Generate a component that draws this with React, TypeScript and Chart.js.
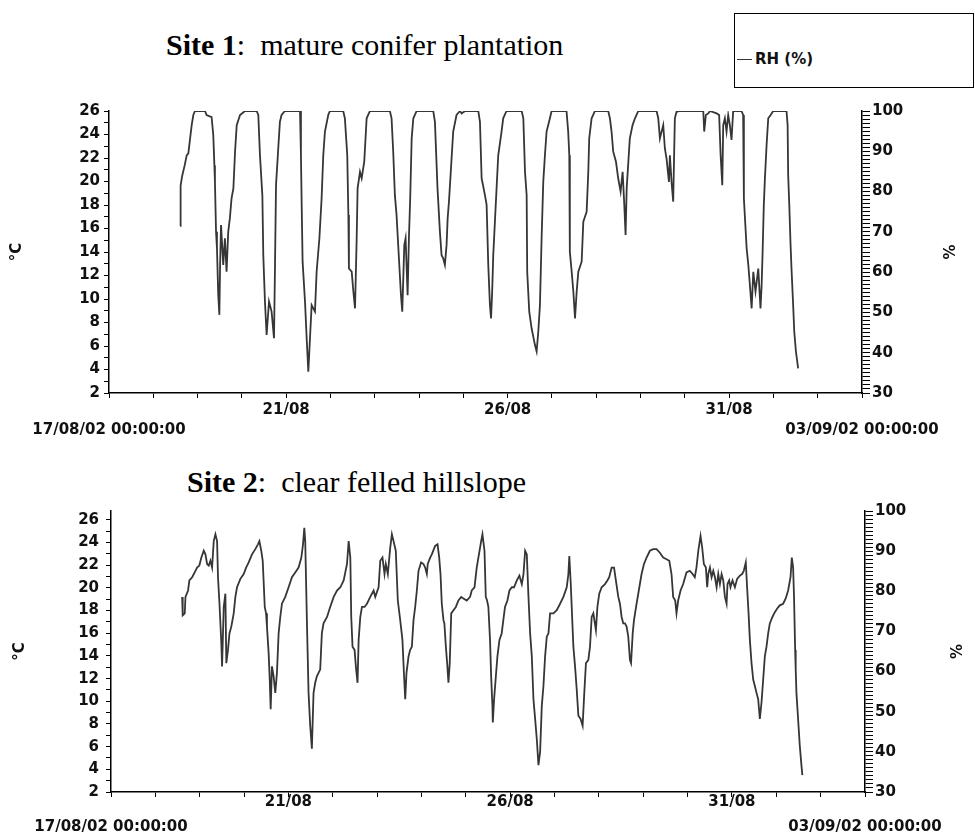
import React, { useEffect, useRef } from 'react';
import { Chart, registerables } from 'chart.js';

Chart.register(...registerables);

// Relative humidity readings: [hours since 17/08/02 00:00, RH %]
const site1Readings: number[][] = [
  [38.5,71.5],[38.8,81.5],[39.7,84],[41,86.5],[42.1,89],[43,89.5],[43.9,93],[44.8,96.5],[45.7,99],[46.6,100],[52,100],[52.9,99],[55.6,98.5],[56.5,94],[57.1,86.5],[57.4,82.5],[58,70],[58.5,65.9],[59.2,54.3],[59.8,49.4],[60.2,62],[60.7,71.7],[61.9,61.8],[62.8,68.4],[63.7,60.1],[64.6,70],[65.5,73.4],[66.4,78.3],[67.4,80.8],[68.3,89.9],[69.2,96.5],[71,99],[73.7,100],
  [80,100],[80.9,99],[81.8,89],[83.1,79],[83.6,64.2],[84.5,52.7],[85.4,44.4],[86.7,52.7],[88.1,50.2],[89.4,43.6],[89.9,60.1],[90.5,81.6],[91.7,90.7],[92.6,97.3],[93.5,99],[95.3,100],
  [103.5,100],[104,89],[104.4,76.7],[104.9,62.6],[106.2,52.7],[107.1,43.6],[108,35.3],[108.9,43.6],[109.8,51.8],[111.6,50.2],[112.5,60.1],[114,68.4],[115.2,78.3],[116.1,89],[117,94.9],[118.8,99],[119.7,100],
  [126.9,100],[127.8,98.2],[129.1,89],[129.7,74.2],[130,60.9],[131.5,60.1],[132.4,55.2],[133.3,51],[134.2,68.4],[134.7,80.8],[136,84.9],[136.9,83.3],[138.3,87.4],[139.6,98.2],[141.4,100],
  [152.2,100],[153.1,98.2],[154,89.9],[154.9,79.1],[155.8,74.2],[157.1,63.4],[158.2,54.3],[158.9,50.2],[160,66.7],[160.7,68.4],[161.8,54.3],[162.5,68.4],[163.2,78.3],[164,93.2],[164.9,98.2],[166.7,100],
  [175.7,100],[176.6,97.3],[178,80.8],[179.3,70],[180.2,64.2],[181.1,63.4],[182,61.8],[182.9,66.7],[183.5,73.4],[184.2,77.5],[185.3,85.8],[186.5,94.9],[188.3,99],[190.2,100],[191.1,99.4],[192.9,100],
  [200.1,100],[201,97.3],[201.9,83.3],[203.7,79.1],[204.6,76.7],[205.5,61.8],[206.4,51.8],[207,48.5],[207.6,55],[208.2,64.2],[209.1,72.5],[210,80.8],[210.9,89],[212.7,94.9],[213.6,98.2],[215.4,100],
  [223.6,100],[224.5,98.2],[225.4,84.9],[226.3,79.1],[226.6,60.1],[227.7,50.2],[229,46],[230.8,41.9],[231.7,40.3],[232.6,45.2],[233.5,51.8],[234.4,68.4],[235.3,82.4],[236.2,89],[237.1,94.9],[238.9,98.2],[239.8,100],
  [247.9,100],[248.8,94.9],[249.4,89],[249.7,65.1],[250.7,60.1],[251.6,55.2],[252.5,48.5],[253.4,55.2],[254.3,60.1],[256.1,62.6],[257,72.5],[258.8,75],[259.7,84.9],[260.2,93.2],[261.5,98.2],[263.3,100],
  [270.5,100],[271.4,98.2],[272.3,94.9],[273.2,89.9],[274.7,87.4],[275.9,83.3],[277.2,80],[278.3,84.9],[279.2,76.7],[279.9,69.2],[280.5,80.8],[281.4,87.4],[282.2,93.2],[283.7,96.5],[285,98.2],[286.8,100],
  [296.7,100],[297.6,98.2],[298.5,93.2],[300.3,96.5],[301.2,90.7],[302.1,88.2],[303.4,82.4],[303.9,89],[304.8,82.4],[305.7,77.5],[306.6,98.2],[307.5,99.8],[309.3,100],
  [322,100],[322.5,94.9],[323.4,99],[324.7,99.4],[325.6,100],[329.2,99.4],[330.6,99],[331.4,89],[332.3,81.6],[332.8,96.5],[333.7,98.2],[334.6,94.9],[335.5,99],[336.4,96.5],[337.3,92.8],[338.2,100],
  [342.7,100],[343.6,99],[344,78.3],[344.7,72.5],[345.5,65.9],[346.4,61.8],[347.3,56.5],[348.2,51],[349.1,60.1],[350.3,55.2],[351.8,60.9],[353,51],[353.6,56.5],[354.1,64.2],[354.8,76.7],[355.4,83.3],[356.3,91.5],[357.2,98.2],[358.5,99],[359.9,100],
  [367.1,100],[367.7,96.5],[368,84.1],[368.6,76.7],[369.3,66.7],[369.8,60.9],[370.7,51.8],[371.3,45.2],[372.2,40.3],[373.4,36.1],
];

const site2Readings: number[][] = [
  [38.5,78.6],[38.8,74],[39.9,74.5],[40.3,78.6],[41.7,80.2],[42.4,82.7],[43.9,83.5],[45.7,85.1],[46.6,85.9],[47.8,86.4],[48.9,88.4],[50.2,90.1],[51.1,89.2],[52,86.8],[52.9,86.4],[53.8,87.6],[54.7,85.9],[55.6,92.5],[56.5,94.2],[57.4,92.5],[57.9,83.5],[58.7,76.9],[59.2,72],[59.7,67.1],[60.1,61.3],[61,76.1],[61.9,79.4],[62.4,62.1],[63.3,65.4],[64.1,69.5],[65.1,71.2],[66.4,74.5],[67.3,78.6],[68.2,81],[70,83.1],[71.8,84.3],[73.1,85.9],[74.5,87.2],[76.3,89.2],[78.1,90.5],[79.5,91.7],[80.3,92.5],[81.3,90.1],[82.1,87.6],[83.2,76.1],[83.9,74.5],[84.4,71.2],[85.3,64.6],[85.9,58],[86.4,50.6],[87.1,61.3],[88,58.8],[88.9,54.7],[89.8,59.7],[90.7,69.5],[91.6,73.6],[92.5,76.9],[94.3,78.6],[96.1,81],[97.9,83.5],[99.7,84.7],[101.5,85.9],[103,88.4],[103.9,91.7],[104.6,95.8],[105.1,92.5],[106,72.8],[106.9,54.7],[107.8,46.5],[108.7,40.8],[109.6,54.7],[110.5,57.2],[111.4,58.8],[112.3,59.7],[113.2,60.5],[114.1,69.5],[115,72],[116.9,73.6],[118.6,76.1],[120.5,78.6],[122.3,80.2],[124.1,81],[125.9,82.7],[127.7,86.8],[128.6,92.5],[129.5,88.4],[130,73.6],[130.7,66.2],[131.8,65.4],[132.5,61.3],[133.4,57.2],[134,67.9],[134.9,73.6],[135.8,76.1],[137.2,76.1],[138.5,76.9],[140.3,78.6],[142.1,80.2],[143,78.6],[144.8,81],[145.7,87.6],[146.9,88.4],[148,84.3],[148.7,86.8],[149.8,84.3],[151.1,90.9],[152,94.2],[152.9,92.5],[154.1,90.1],[155.2,77.7],[156.5,72.8],[157.7,67.9],[158.5,59.7],[159.2,53.1],[159.9,59.7],[161,63.8],[161.9,65.4],[162.8,66.2],[163.7,72.8],[164.6,76.1],[165.5,80.2],[166.4,85.1],[167.8,87.2],[169.1,86.8],[170,85.9],[170.9,84.3],[171.4,86.8],[172.7,88.4],[173.6,89.2],[175.4,91.3],[176.7,91.7],[177.6,88.4],[178.3,84.3],[179,76.9],[179.9,72.8],[180.4,72],[181.2,66.2],[181.9,62.1],[182.6,57.2],[183.3,62.1],[184.1,74.5],[185.3,75.3],[186.6,76.1],[188,77.7],[189.5,78.6],[190.7,78.2],[192.5,77.7],[194.3,78.6],[195.2,80.2],[196.7,81],[197.9,85.9],[198.8,88.4],[200.3,92.5],[201,94.2],[202.1,90.1],[202.8,78.6],[203.5,77.7],[204.2,76.1],[205.1,67.9],[205.7,58.8],[206.4,51.4],[206.6,47.3],[207.3,53.1],[208.4,59.7],[209.1,63.8],[210.2,67.9],[211.4,69.5],[212.3,72.8],[213.2,76.1],[214.5,77.7],[215.6,80.2],[216.9,81],[218.1,81],[219.6,82.7],[221,83.9],[222.3,81.8],[223.2,84.3],[224.1,90.1],[225,89.2],[225.9,78.6],[226.8,69.5],[227.7,63.8],[228.6,53.1],[229.5,48.2],[230.4,43.2],[231.3,36.7],[232.2,40],[233.1,51.4],[234,56.4],[234.9,63.8],[235.8,68.7],[236.7,69.5],[237.6,74.5],[239.4,74.5],[241.2,75.3],[243,76.9],[244.8,78.6],[246.6,81],[247.5,84.3],[248,88.8],[248.7,82.7],[249.3,76.1],[250.2,66.2],[251.1,61.3],[252,55.6],[252.9,49],[254.1,48.2],[255.2,46.5],[256.1,54.7],[257,62.1],[258.3,62.9],[259.2,66.2],[260.1,73.6],[261,74.5],[262.4,70.3],[263.2,76.1],[264.2,79.4],[265.5,81],[267.3,81.8],[268.6,82.7],[269.6,83.5],[270.9,85.9],[272.2,85.9],[273.2,82.7],[274.5,78.6],[275.4,76.9],[276.3,73.6],[277.2,72],[278.1,72],[279,71.2],[279.9,68.7],[280.8,62.9],[281.4,62.1],[282.3,69.5],[283,72.8],[284.4,76.9],[285.9,81],[287.1,84.3],[288.4,86.8],[289.8,88.4],[291.6,90.1],[293.4,90.5],[295.2,90.5],[297,89.6],[298.8,88.4],[300.6,88],[302.1,87.6],[303.3,84.3],[304.2,78.6],[305.3,77.7],[306,74.5],[306.9,77.7],[308.2,80.2],[309.6,81.8],[311.4,84.7],[313.2,85.1],[314.7,84.3],[315.9,83.5],[316.8,85.9],[317.8,90.1],[319,93.8],[319.9,90.9],[320.8,86.8],[321.9,85.9],[322.6,81],[323.2,84.3],[324.1,85.9],[325,83.5],[325.9,85.1],[326.8,83.5],[327.7,81],[328.6,84.3],[329.5,81.8],[330.4,84.3],[331.3,82.7],[332.2,78.6],[333.1,76.9],[333.6,81.8],[334.5,82.7],[335.2,81],[336.3,82.7],[337.6,81],[338.8,83.1],[340.3,83.9],[341.5,84.3],[342.4,85.1],[343.5,87.2],[344.2,81],[345,74.5],[345.7,67.9],[346.6,62.1],[347.5,58],[348.4,56.4],[349.3,54.7],[350.2,53.1],[351.1,48.2],[352,52.3],[352.9,58],[353.8,63.8],[354.7,66.2],[355.6,69.5],[356.5,72],[357.9,73.6],[359.2,74.8],[360.5,75.7],[361.9,76.5],[363.7,76.9],[365.1,78.2],[366.4,80.2],[367.7,83.5],[368.4,88.4],[369.1,85.9],[369.6,78.6],[370.2,65.4],[370.5,60.5],[370.9,54.7],[371.8,48.2],[372.7,41.6],[373.6,36.7],[374.1,34.2],
];

// X axis: one tick per day (hours since 17/08/02 00:00)
const dayTickHours = [0,24,48,72,96,120,144,168,192,216,240,264,288,312,336,360,384,408];
const labelledTickHours = [96, 216, 336];
const labelledTickText = ['21/08', '26/08', '31/08'];
const cornerLabels = ['17/08/02 00:00:00', '03/09/02 00:00:00'];
const tempTicks = [2,3,4,5,6,7,8,9,10,11,12,13,14,15,16,17,18,19,20,21,22,23,24,25,26];
const rhTicks = Array.from({ length: 71 }, (_, i) => 30 + i);

const TICK_FONT = { family: '"DejaVu Sans", sans-serif', weight: 'bold' as const, size: 15 };
const TITLE_FONT = { family: '"DejaVu Sans", sans-serif', weight: 'bold' as const, size: 15 };

type PanelGeom = {
  padTop: number; xAxisH: number; leftW: number; rightW: number; tempMax: number;
  leftTitlePad: number; rightTitlePad: number; leftTickPad: number; xTickPad: number; cornerOffset: number;
};

function makeChart(canvas: HTMLCanvasElement, readings: number[][], g: PanelGeom) {
  const cornerPlugin = {
    id: 'cornerLabels',
    afterDraw(chart: any) {
      const { ctx, chartArea } = chart;
      const x = chart.scales.x;
      ctx.save();
      ctx.font = 'bold 15px "DejaVu Sans", sans-serif';
      ctx.fillStyle = '#111';
      ctx.textAlign = 'center';
      ctx.textBaseline = 'middle';
      ctx.fillText(cornerLabels[0], x.getPixelForValue(0), chartArea.bottom + g.cornerOffset);
      ctx.fillText(cornerLabels[1], x.getPixelForValue(408), chartArea.bottom + g.cornerOffset);
      ctx.restore();
    },
  };
  return new Chart(canvas, {
    type: 'line',
    data: {
      datasets: [{
        label: 'RH (%)',
        data: readings.map(([h, v]) => ({ x: h, y: v })),
        yAxisID: 'yR',
        borderColor: '#363636',
        borderWidth: 1.8,
        pointRadius: 0,
        tension: 0,
        fill: false,
      }],
    },
    options: {
      responsive: false,
      animation: false,
      devicePixelRatio: 1,
      layout: { padding: { top: g.padTop, left: 0, right: 0, bottom: 0 } },
      plugins: { legend: { display: false }, tooltip: { enabled: false } },
      scales: {
        x: {
          type: 'linear', min: 0, max: 408,
          afterBuildTicks: (a: any) => { a.ticks = dayTickHours.map(v => ({ value: v })); },
          afterFit: (s: any) => { s.height = g.xAxisH; },
          ticks: {
            autoSkip: false, maxRotation: 0, padding: g.xTickPad, font: TICK_FONT, color: '#111',
            callback: (v: any) => { const i = labelledTickHours.indexOf(Number(v)); return i >= 0 ? labelledTickText[i] : ''; },
          },
          grid: { drawOnChartArea: false, drawTicks: true, tickLength: 5, tickColor: '#000', tickWidth: 1 },
          border: { display: true, color: '#000', width: 1.5 },
        },
        yT: {
          type: 'linear', position: 'left', min: 2, max: g.tempMax,
          afterBuildTicks: (a: any) => { a.ticks = tempTicks.map(v => ({ value: v })); },
          afterFit: (s: any) => { s.width = g.leftW; },
          ticks: {
            autoSkip: false, padding: g.leftTickPad, font: TICK_FONT, color: '#111',
            callback: (v: any) => (Number(v) % 2 === 0 ? String(v) : ''),
          },
          grid: { drawOnChartArea: false, drawTicks: true, tickLength: 5, tickColor: '#000', tickWidth: 1 },
          border: { display: true, color: '#000', width: 1.5 },
          title: { display: true, text: '°C', font: TITLE_FONT, color: '#111', padding: { top: g.leftTitlePad, bottom: 0 } },
        },
        yR: {
          type: 'linear', position: 'right', min: 30, max: 100,
          afterBuildTicks: (a: any) => { a.ticks = rhTicks.map(v => ({ value: v })); },
          afterFit: (s: any) => { s.width = g.rightW; },
          ticks: {
            autoSkip: false, padding: 2, font: TICK_FONT, color: '#111',
            callback: (v: any) => (Number(v) % 10 === 0 ? String(v) : ''),
          },
          grid: { drawOnChartArea: false, drawTicks: true, tickLength: 8, tickColor: '#000', tickWidth: 1 },
          border: { display: true, color: '#000', width: 1.5 },
          title: { display: true, text: '%', font: TITLE_FONT, color: '#111', padding: { top: g.rightTitlePad, bottom: 0 } },
        },
      },
    } as any,
    plugins: [cornerPlugin],
  });
}

export default function App() {
  const ref1 = useRef<HTMLCanvasElement>(null);
  const ref2 = useRef<HTMLCanvasElement>(null);

  useEffect(() => {
    const c1 = makeChart(ref1.current!, site1Readings, {
      padTop: 21, xAxisH: 57, leftW: 109, rightW: 113, tempMax: 26,
      leftTitlePad: 8, rightTitlePad: 19, leftTickPad: 4, xTickPad: 3, cornerOffset: 37,
    });
    const c2 = makeChart(ref2.current!, site2Readings, {
      padTop: 13, xAxisH: 44, leftW: 111, rightW: 110, tempMax: 2 + 24 * 284 / 275,
      leftTitlePad: 11, rightTitlePad: 12, leftTickPad: 7, xTickPad: -4, cornerOffset: 35,
    });
    return () => { c1.destroy(); c2.destroy(); };
  }, []);

  const titleStyle: React.CSSProperties = {
    position: 'absolute', fontFamily: '"Liberation Serif", "Times New Roman", serif', fontSize: 30,
    lineHeight: '30px', whiteSpace: 'pre', color: '#000',
  };

  return (
    <div style={{ position: 'absolute', left: 0, top: 0, width: 975, height: 836, background: '#fff', overflow: 'hidden' }}>
      <div style={{ ...titleStyle, left: 166, top: 30 }}><b>Site 1</b>:  mature conifer plantation</div>
      <div style={{
        position: 'absolute', left: 734, top: 13, width: 240, height: 75, boxSizing: 'border-box',
        border: '1.5px solid #000', background: '#fff',
      }}>
        <div style={{
          position: 'absolute', left: 2, top: 35, display: 'flex', alignItems: 'center',
          fontFamily: '"DejaVu Sans", sans-serif', fontWeight: 'bold', fontSize: 15, lineHeight: '20px', color: '#111',
        }}>
          <span style={{ display: 'inline-block', width: 15, height: 0, borderTop: '1.8px solid #363636', marginRight: 3 }} />
          <span>RH (%)</span>
        </div>
      </div>
      <canvas ref={ref1} width={975} height={360} style={{ position: 'absolute', left: 0, top: 90, width: 975, height: 360 }} />
      <div style={{ ...titleStyle, left: 187, top: 467 }}><b>Site 2</b>:  clear felled hillslope</div>
      <canvas ref={ref2} width={975} height={341} style={{ position: 'absolute', left: 0, top: 495, width: 975, height: 341 }} />
    </div>
  );
}
